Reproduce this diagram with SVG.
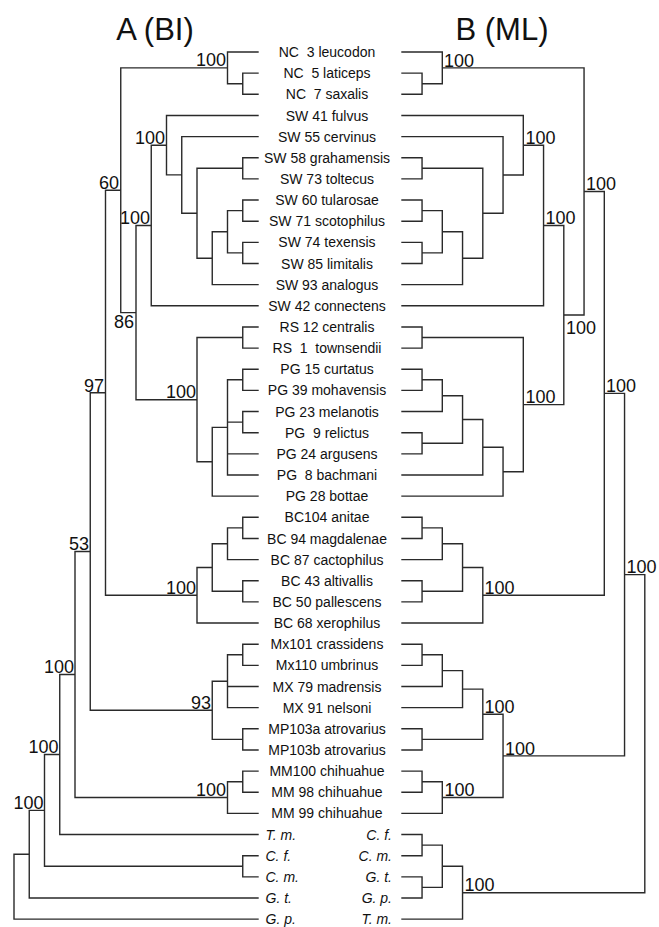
<svg xmlns="http://www.w3.org/2000/svg" width="659" height="927" viewBox="0 0 659 927">
<style>
.br{fill:none;stroke:#2a2a2a;stroke-width:1.4;stroke-linecap:square}
.t{font-family:"Liberation Sans",Arial,sans-serif;fill:#111}
.leaf{font-size:14px;text-anchor:middle;white-space:pre}
.it{font-size:14px;font-style:italic}
.sl{font-size:18px;text-anchor:end}
.sr{font-size:18px;text-anchor:start}
.ttl{font-size:31px;text-anchor:middle}
</style>
<rect width="659" height="927" fill="#fff"/>
<g id="titles" class="t">
<text class="t ttl" x="155" y="40">A (BI)</text>
<text class="t ttl" x="502" y="40">B (ML)</text>
</g>
<g id="connectors">
<path id="tree-A" class="br" d="M242.75 73.15V94.3M227.5 52V83.7M242.75 157.75V178.9M242.75 200.05V221.2M242.75 242.35V263.5M227.5 210.6V252.9M212.25 231.8V284.65M197 168.3V258.2M181.75 136.6V213.3M166.5 115.45V174.9M151.25 145.2V305.8M242.75 326.95V348.1M242.75 369.25V390.4M242.75 411.55V432.7M227.5 379.8V475M212.25 427.4V496.15M197 337.5V461.8M136 225.5V399.7M120.75 67.9V312.6M242.75 517.3V538.45M227.5 527.9V559.6M242.75 580.75V601.9M212.25 543.7V591.3M197 567.5V623.05M105.5 190.2V595.3M242.75 644.2V665.35M227.5 654.8V707.65M242.75 728.8V749.95M212.25 681.2V739.4M90.25 392.7V710.3M242.75 771.1V792.25M227.5 781.7V813.4M75 551.5V797.5M59.75 674.5V834.55M242.75 855.7V876.85M44.5 754.5V866.3M29.25 810.4V898M14 854.2V919.15
M227.5 52H258M242.75 73.15H258M242.75 94.3H258M227.5 83.7H242.75M166.5 115.45H258M181.75 136.6H258M242.75 157.75H258M242.75 178.9H258M242.75 200.05H258M242.75 221.2H258M242.75 242.35H258M242.75 263.5H258M212.25 284.65H258M151.25 305.8H258M197 168.3H242.75M227.5 210.6H242.75M227.5 252.9H242.75M212.25 231.8H227.5M197 258.2H212.25M181.75 213.3H197M166.5 174.9H181.75M151.25 145.2H166.5M136 225.5H151.25M120.75 67.9H227.5
M242.75 326.95H258M242.75 348.1H258M197 337.5H242.75M242.75 369.25H258M242.75 390.4H258M242.75 411.55H258M242.75 432.7H258M227.5 453.85H258M227.5 475H258M212.25 496.15H258M227.5 379.8H242.75M227.5 422.1H242.75M212.25 427.4H227.5M197 461.8H212.25M136 399.7H197M120.75 312.6H136M105.5 190.2H120.75
M242.75 517.3H258M242.75 538.45H258M227.5 559.6H258M242.75 580.75H258M242.75 601.9H258M197 623.05H258M227.5 527.9H242.75M212.25 543.7H227.5M212.25 591.3H242.75M197 567.5H212.25M105.5 595.3H197M90.25 392.7H105.5
M242.75 644.2H258M242.75 665.35H258M227.5 686.5H258M227.5 707.65H258M227.5 654.8H242.75M212.25 681.2H227.5M242.75 728.8H258M242.75 749.95H258M212.25 739.4H242.75M90.25 710.3H212.25M75 551.5H90.25
M242.75 771.1H258M242.75 792.25H258M227.5 813.4H258M227.5 781.7H242.75M75 797.5H227.5M59.75 674.5H75M59.75 834.55H258M44.5 754.5H59.75M242.75 855.7H258M242.75 876.85H258M44.5 866.3H242.75M29.25 810.4H44.5M29.25 898H258M14 854.2H29.25M14 919.15H258"/>
<path id="tree-B" class="br" d="M422.05 73.15V94.3M442.3 52V83.7M422.05 157.75V178.9M422.05 200.05V221.2M422.05 242.35V263.5M442.3 210.6V252.9M462.55 231.8V284.65M482.8 168.3V258.2M503.05 136.6V213.3M523.3 115.45V175M543.55 145.2V305.8M422.05 326.95V348.1M422.05 369.25V390.4M442.3 379.8V411.55M422.05 432.7V453.85M462.55 395.7V443.3M482.8 419.5V475M503.05 447.3V496.15M523.3 337.5V471.7M563.8 225.5V404.6M584.05 67.9V315M422.05 517.3V538.45M442.3 527.9V559.6M422.05 580.75V601.9M462.55 543.7V591.3M482.8 567.5V623.05M604.3 191.5V595.3M422.05 644.2V665.35M442.3 654.8V686.5M462.55 670.6V707.65M422.05 728.8V749.95M482.8 689.1V739.4M422.05 771.1V792.25M442.3 781.7V813.4M503.05 714.2V797.5M624.55 393.4V755.9M422.05 834.55V855.7M422.05 876.85V898M442.3 845.1V887.4M462.55 866.3V919.15M644.8 574.6V892.7
M402 52H442.3M402 73.15H422.05M402 94.3H422.05M422.05 83.7H442.3M442.3 67.9H584.05M402 115.45H523.3M402 136.6H503.05M402 157.75H422.05M402 178.9H422.05M402 200.05H422.05M402 221.2H422.05M402 242.35H422.05M402 263.5H422.05M402 284.65H462.55M402 305.8H543.55M422.05 168.3H482.8M422.05 210.6H442.3M422.05 252.9H442.3M442.3 231.8H462.55M462.55 258.2H482.8M482.8 213.3H503.05M503.05 175H523.3M523.3 145.2H543.55M543.55 225.5H563.8
M402 326.95H422.05M402 348.1H422.05M422.05 337.5H523.3M402 369.25H422.05M402 390.4H422.05M402 411.55H442.3M402 432.7H422.05M402 453.85H422.05M402 475H482.8M402 496.15H503.05M422.05 379.8H442.3M442.3 395.7H462.55M422.05 443.3H462.55M462.55 419.5H482.8M482.8 447.3H503.05M503.05 471.7H523.3M523.3 404.6H563.8M563.8 315H584.05M584.05 191.5H604.3
M402 517.3H422.05M402 538.45H422.05M402 559.6H442.3M402 580.75H422.05M402 601.9H422.05M402 623.05H482.8M422.05 527.9H442.3M442.3 543.7H462.55M422.05 591.3H462.55M462.55 567.5H482.8M482.8 595.3H604.3M604.3 393.4H624.55
M402 644.2H422.05M402 665.35H422.05M402 686.5H442.3M402 707.65H462.55M422.05 654.8H442.3M442.3 670.6H462.55M462.55 689.1H482.8M402 728.8H422.05M402 749.95H422.05M422.05 739.4H482.8M482.8 714.2H503.05M402 771.1H422.05M402 792.25H422.05M402 813.4H442.3M422.05 781.7H442.3M442.3 797.5H503.05M503.05 755.9H624.55M624.55 574.6H644.8
M402 834.55H422.05M402 855.7H422.05M402 876.85H422.05M402 898H422.05M402 919.15H462.55M422.05 845.1H442.3M422.05 887.4H442.3M442.3 866.3H462.55M462.55 892.7H644.8"/>
</g>
<g id="support-A" class="t sl">
<text x="226" y="66">100</text>
<text x="119" y="188.5">60</text>
<text x="165" y="143.5">100</text>
<text x="150" y="224">100</text>
<text x="134" y="328">86</text>
<text x="196" y="398">100</text>
<text x="104" y="391.5">97</text>
<text x="196" y="593.5">100</text>
<text x="211" y="708.5">93</text>
<text x="89" y="550">53</text>
<text x="226" y="796">100</text>
<text x="74" y="673">100</text>
<text x="58.5" y="753">100</text>
<text x="43.5" y="808.5">100</text>
</g>
<g id="support-B" class="t sr">
<text x="444" y="66.5">100</text>
<text x="525.5" y="143.5">100</text>
<text x="545.5" y="224">100</text>
<text x="525.5" y="403">100</text>
<text x="566" y="333.5">100</text>
<text x="586" y="190">100</text>
<text x="484.5" y="593.5">100</text>
<text x="606" y="392">100</text>
<text x="484.5" y="712.5">100</text>
<text x="444.5" y="796">100</text>
<text x="505" y="754.5">100</text>
<text x="626.5" y="573">100</text>
<text x="464.5" y="891">100</text>
</g>
<g id="taxa" class="t leaf">
<g id="nc3"><text xml:space="preserve" x="327" y="57">NC  3 leucodon</text></g>
<g id="nc5"><text xml:space="preserve" x="327" y="78.2">NC  5 laticeps</text></g>
<g id="nc7"><text xml:space="preserve" x="327" y="99.3">NC  7 saxalis</text></g>
<g id="sw41"><text x="327" y="120.5">SW 41 fulvus</text></g>
<g id="sw55"><text x="327" y="141.6">SW 55 cervinus</text></g>
<g id="sw58"><text x="327" y="162.8">SW 58 grahamensis</text></g>
<g id="sw73"><text x="327" y="183.9">SW 73 toltecus</text></g>
<g id="sw60"><text x="327" y="205.1">SW 60 tularosae</text></g>
<g id="sw71"><text x="327" y="226.2">SW 71 scotophilus</text></g>
<g id="sw74"><text x="327" y="247.4">SW 74 texensis</text></g>
<g id="sw85"><text x="327" y="268.5">SW 85 limitalis</text></g>
<g id="sw93"><text x="327" y="289.7">SW 93 analogus</text></g>
<g id="sw42"><text x="327" y="310.8">SW 42 connectens</text></g>
<g id="rs12"><text x="327" y="332">RS 12 centralis</text></g>
<g id="rs1"><text xml:space="preserve" x="327" y="353.1">RS  1  townsendii</text></g>
<g id="pg15"><text x="327" y="374.3">PG 15 curtatus</text></g>
<g id="pg39"><text x="327" y="395.4">PG 39 mohavensis</text></g>
<g id="pg23"><text x="327" y="416.6">PG 23 melanotis</text></g>
<g id="pg9"><text xml:space="preserve" x="327" y="437.7">PG  9 relictus</text></g>
<g id="pg24"><text x="327" y="458.9">PG 24 argusens</text></g>
<g id="pg8"><text xml:space="preserve" x="327" y="480">PG  8 bachmani</text></g>
<g id="pg28"><text x="327" y="501.2">PG 28 bottae</text></g>
<g id="bc104"><text x="327" y="522.3">BC104 anitae</text></g>
<g id="bc94"><text x="327" y="543.5">BC 94 magdalenae</text></g>
<g id="bc87"><text x="327" y="564.6">BC 87 cactophilus</text></g>
<g id="bc43"><text x="327" y="585.8">BC 43 altivallis</text></g>
<g id="bc50"><text x="327" y="606.9">BC 50 pallescens</text></g>
<g id="bc68"><text x="327" y="628.1">BC 68 xerophilus</text></g>
<g id="mx101"><text x="327" y="649.2">Mx101 crassidens</text></g>
<g id="mx110"><text x="327" y="670.4">Mx110 umbrinus</text></g>
<g id="mx79"><text x="327" y="691.5">MX 79 madrensis</text></g>
<g id="mx91"><text x="327" y="712.7">MX 91 nelsoni</text></g>
<g id="mp103a"><text x="327" y="733.8">MP103a atrovarius</text></g>
<g id="mp103b"><text x="327" y="755">MP103b atrovarius</text></g>
<g id="mm100"><text x="327" y="776.1">MM100 chihuahue</text></g>
<g id="mm98"><text x="327" y="797.3">MM 98 chihuahue</text></g>
<g id="mm99"><text x="327" y="818.4">MM 99 chihuahue</text></g>
</g>
<g id="outgroups-A" class="t it">
<g id="a-tm"><text x="265.5" y="839.6">T. m.</text></g>
<g id="a-cf"><text x="265.5" y="860.7">C. f.</text></g>
<g id="a-cm"><text x="265.5" y="881.9">C. m.</text></g>
<g id="a-gt"><text x="265.5" y="903">G. t.</text></g>
<g id="a-gp"><text x="265.5" y="924.2">G. p.</text></g>
</g>
<g id="outgroups-B" class="t it" text-anchor="end">
<g id="b-cf"><text x="392" y="839.6">C. f.</text></g>
<g id="b-cm"><text x="392" y="860.7">C. m.</text></g>
<g id="b-gt"><text x="392" y="881.9">G. t.</text></g>
<g id="b-gp"><text x="392" y="903">G. p.</text></g>
<g id="b-tm"><text x="392" y="924.2">T. m.</text></g>
</g>
</svg>
